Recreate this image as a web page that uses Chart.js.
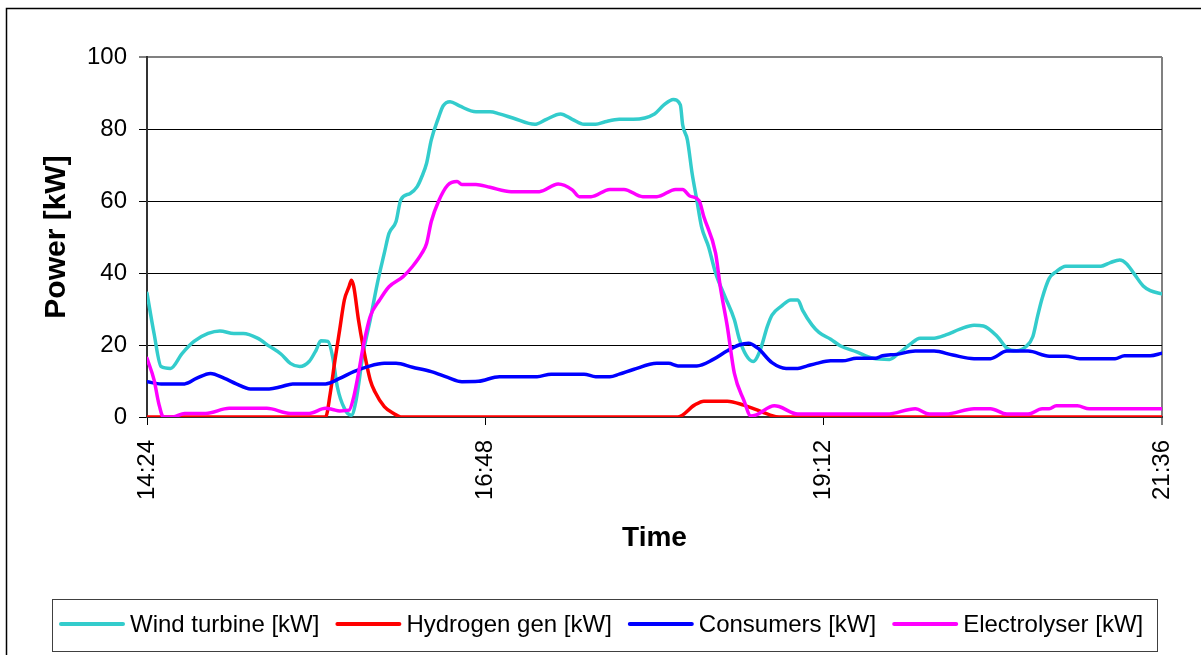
<!DOCTYPE html>
<html><head><meta charset="utf-8">
<script src="https://cdn.jsdelivr.net/npm/chart.js@4.4.1/dist/chart.umd.min.js"></script>
<style>html,body{margin:0;padding:0;background:#fff;overflow:hidden}#wrap{position:relative;width:1201px;height:655px}</style>
</head><body><div id="wrap"><canvas id="c" width="1201" height="655"></canvas></div>
<script>
// time in minutes after 14:24
const startMinutes = 864;
const xTickValues = [0, 144, 288, 432];
const yTickValues = [0, 20, 40, 60, 80, 100];
const seriesNames = ["Wind turbine [kW]", "Hydrogen gen [kW]", "Consumers [kW]", "Electrolyser [kW]"];
const seriesColors = ["#33CCCC", "#FF0000", "#0000FF", "#FF00FF"];

const windT = [0,3,6,10,15,20,26,31,37,41, 47,52,57,61,65,69,72,74,77,79, 81,84,87,89,92,95,98,101,103,106, 108,112,115,117,119,121,124,126,129,133, 140,146,150,156,165,170,176,181,186,191, 195,201,207,216,220,224,227,228,230,232, 234,236,239,242,246,250,252,255,258,261, 264,266,270,274,277,279,283,286,291,295, 302,309,316,320,325,329,335,340,346,352, 356,362,366,370,374,377,379,381,384,387, 391,397,406,410,414,417,420,424,427,432];
const windV = [34.4,23.2,14,13.5,17.7,21,23.2,23.9,23.2,23.2, 21.9,19.7,17.5,14.9,14,15.4,18.6,21.2,21,16.8, 8.4,2.4,0.5,4.7,17.7,27,37,45.5,51,54.3, 60.3,62.1,64,66.8,70.5,77,83,86.4,87.6,86.4, 84.8,84.8,84.2,83,81.3,82.7,84.2,82.7,81.3,81.3, 82,82.7,82.7,84.2,86.7,88.2,86.7,81.1,77,67.7, 60.3,52.9,47.3,40,33.4,27,21.9,17.2,15.4,18.6, 25.1,28.3,30.8,32.5,32.5,29.7,25.6,23.5,21.6,19.8, 18.1,16.3,16,17.7,20.3,21.9,21.9,22.8,24.4,25.5, 25.3,22.3,19.1,18.4,19.5,22.3,27.9,33,38.5,40.4, 41.9,41.9,41.9,42.9,43.6,42.5,39.9,36.4,35.1,34.2];

const h2T = [0,76,78,80,82,84,86,87,88,90,92,95,97,101,105,108,226,233,237,247,254,259,265,269,432];
const h2V = [0,0,6.6,15.8,24.2,32.5,36.2,38,36.2,27,19.5,10.3,7,2.9,1,0,0,3.3,4.4,4.4,3.3,2.1,0.6,0,0];

const consT = [0,6,16,21,27,33,38,44,52,57, 62,76,82,88,94,101,106,113,121,128, 134,141,150,166,172,186,191,197,201,207, 217,222,226,234,241,247,252,256,260,266, 272,277,281,285,291,296,302,310,313,319, 327,335,343,352,359,366,375,384,391,397, 412,416,427,432];
const consV = [9.8,9.2,9.2,10.7,12.1,10.7,9.2,7.8,7.8,8.4, 9.2,9.2,10.7,12.6,14,14.9,14.9,13.8,12.6,11, 9.8,9.9,11.2,11.2,11.9,11.9,11.2,11.2,11.9,13.2, 14.9,14.9,14.2,14.2,16,18.4,20,20.5,19.1,15.1, 13.5,13.5,14.2,14.9,15.6,15.6,16.3,16.3,17,17.4, 18.3,18.3,17.2,16.2,16.2,18.3,18.3,16.9,16.9,16.2, 16.2,17,17,17.7];

const elecT = [0,3,5,7,11,16,25,35,51,61, 69,76,79,82,86,88,90,92,95,99, 103,109,113,117,119,121,124,128,132,134, 140,146,155,167,175,181,184,189,197,203, 211,217,225,228,231,235,237,242,244,247, 250,254,257,259,267,269,277,315,327,333, 340,352,359,366,375,381,384,387,396,401, 432];
const elecV = [16.3,10.3,3.8,0,0,1,1,2.4,2.4,1, 1,2.4,2.1,1.7,1.9,5.6,12.1,19.5,27.9,32.5, 36.2,39,41.8,45.5,48.2,54.3,59.8,64.4,65.4,64.6, 64.6,63.8,62.6,62.6,64.7,63.1,61.2,61.2,63.2,63.2, 61.2,61.2,63.2,63.2,61.4,60.1,55.6,45.5,36.2,25.1, 12.1,4.7,0.3,0.5,3.1,2.9,0.8,0.8,2.3,0.8, 0.8,2.3,2.3,0.8,0.8,2.3,2.3,3.1,3.1,2.3, 2.3];

const FONT = "'Liberation Sans', Arial, Helvetica, sans-serif";
function hhmm(m){const t=startMinutes+m;const h=Math.floor(t/60),mm=t%60;return h+':'+String(mm).padStart(2,'0');}
function pts(t,v){return t.map((x,i)=>({x:x,y:v[i]}));}

const seriesTimes = [windT, h2T, consT, elecT];
const seriesValues = [windV, h2V, consV, elecV];
const datasets = seriesNames.map((n,i)=>({
  label:n, data:pts(seriesTimes[i],seriesValues[i]),
  borderColor:seriesColors[i], backgroundColor:seriesColors[i],
  borderWidth:3.5, pointRadius:0, pointHoverRadius:0, fill:false,
  tension:0.3, cubicInterpolationMode:'monotone', order:4-i,
  borderJoinStyle:'round', borderCapStyle:'round'
}));

const framePlugin = {
  id:'frame',
  beforeDraw(chart){
    const ctx=chart.ctx; ctx.save(); ctx.fillStyle='#fff'; ctx.fillRect(0,0,chart.width,chart.height); ctx.restore();
  },
  afterDraw(chart){
    const ctx=chart.ctx; ctx.save();
    // outer border
    ctx.strokeStyle='#000'; ctx.lineWidth=1.5;
    ctx.beginPath(); ctx.moveTo(6.5,chart.height); ctx.lineTo(6.5,8.5); ctx.lineTo(chart.width,8.5); ctx.stroke();
    // legend box
    ctx.strokeStyle='#404040'; ctx.lineWidth=1;
    ctx.strokeRect(52.5,599.5,1105,52);
    ctx.font='24px '+FONT; ctx.textBaseline='middle'; ctx.fillStyle='#000';
    let x=59; const y=625;
    chart.data.datasets.forEach(ds=>{
      ctx.strokeStyle=ds.borderColor; ctx.lineWidth=4; ctx.lineCap='round';
      ctx.beginPath(); ctx.moveTo(x+2,y-1); ctx.lineTo(x+64,y-1); ctx.stroke();
      x+=71;
      ctx.fillText(ds.label,x,y);
      x+=ctx.measureText(ds.label).width+16;
    });
    ctx.restore();
  }
};

new Chart(document.getElementById('c'),{
  type:'line',
  data:{datasets:datasets},
  plugins:[framePlugin],
  options:{
    responsive:false, animation:false, devicePixelRatio:1,
    layout:{padding:{left:0,right:39,top:57,bottom:0}},
    plugins:{legend:{display:false},tooltip:{enabled:false}},
    scales:{
      x:{type:'linear',min:0,max:432,
        afterFit(s){s.height=238;s.paddingLeft=0;s.paddingRight=0;},
        afterBuildTicks(s){s.ticks=xTickValues.map(v=>({value:v}));},
        ticks:{stepSize:144,autoSkip:false,minRotation:90,maxRotation:90,padding:15,color:'#000',
          font:{family:FONT,size:24},callback:v=>hhmm(v)},
        grid:{color:c=>(c.tick&&c.tick.value===432)?'#808080':'rgba(0,0,0,0)',
          lineWidth:c=>(c.tick&&c.tick.value===432)?2:1,
          tickColor:'#000',tickWidth:1,tickLength:8,drawTicks:true},
        border:{color:'#333',width:2},
        title:{display:true,text:'Time',color:'#000',font:{family:FONT,size:28,weight:'bold'},padding:{top:0,bottom:100}}
      },
      y:{min:0,max:100,
        afterFit(s){s.width=147;s.paddingTop=0;s.paddingBottom=0;},
        afterBuildTicks(s){s.ticks=yTickValues.map(v=>({value:v}));},
        ticks:{stepSize:20,padding:12,color:'#000',font:{family:FONT,size:24}},
        grid:{color:c=>(c.tick&&c.tick.value===100)?'#808080':(c.tick&&c.tick.value===0)?'rgba(0,0,0,0)':'#000',
          lineWidth:c=>(c.tick&&c.tick.value===100)?2:1,
          tickColor:'#000',tickWidth:1,tickLength:8},
        border:{color:'#333',width:2},
        title:{display:true,text:'Power [kW]',color:'#000',font:{family:FONT,size:30,weight:'bold'},padding:{top:39,bottom:0}}
      }
    }
  }
});
</script></body></html>
